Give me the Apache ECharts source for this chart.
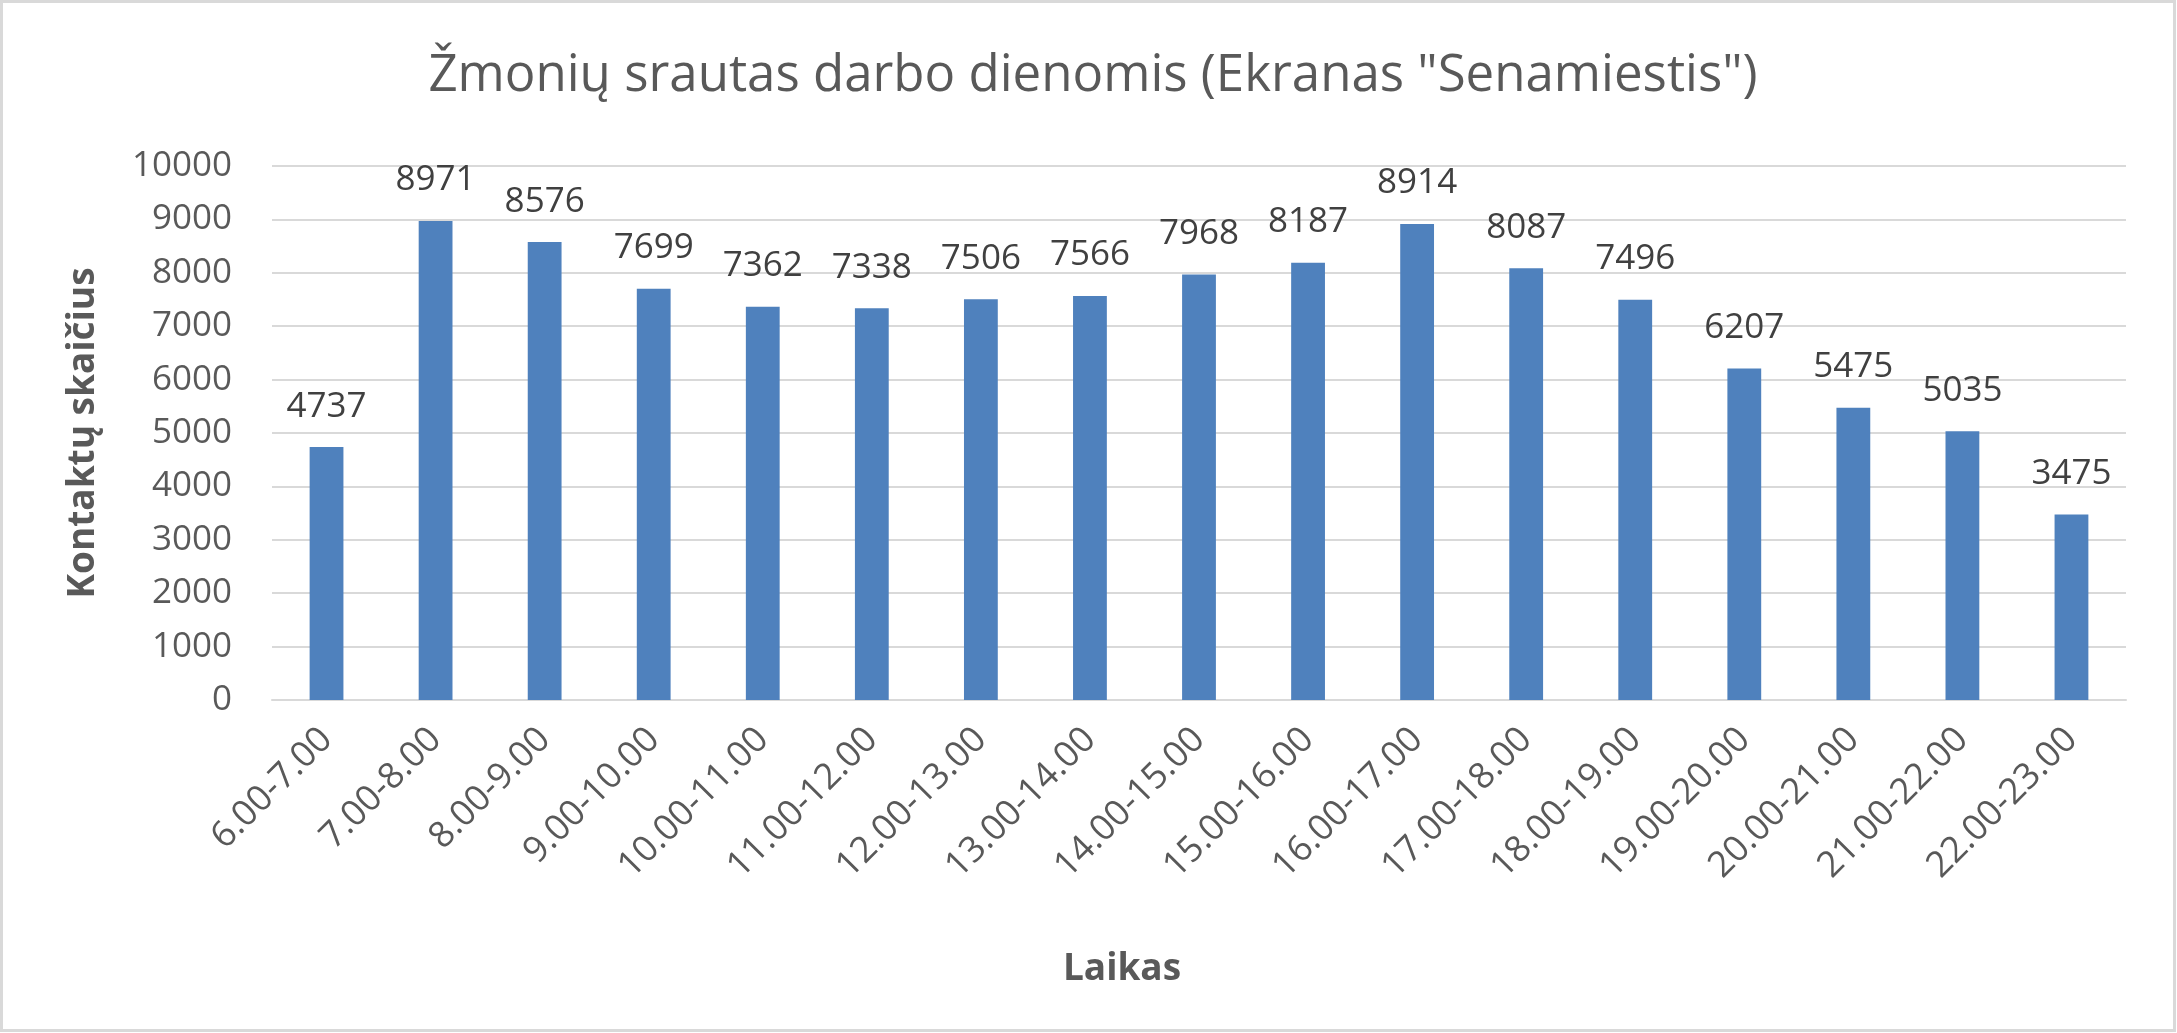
<!DOCTYPE html>
<html>
<head>
<meta charset="utf-8">
<script src="https://cdn.jsdelivr.net/npm/echarts@6/dist/echarts.min.js"></script>
<style>
html,body{margin:0;padding:0;background:#fff;}
#chart{width:2177px;height:1033px;}
</style>
</head>
<body>
<div id="chart"></div>
<script>
const categories = ["6.00-7.00","7.00-8.00","8.00-9.00","9.00-10.00","10.00-11.00","11.00-12.00","12.00-13.00","13.00-14.00","14.00-15.00","15.00-16.00","16.00-17.00","17.00-18.00","18.00-19.00","19.00-20.00","20.00-21.00","21.00-22.00","22.00-23.00"];
const values = [4737,8971,8576,7699,7362,7338,7506,7566,7968,8187,8914,8087,7496,6207,5475,5035,3475];
const chartTitle = 'Žmonių srautas darbo dienomis (Ekranas "Senamiestis")';
const xTitle = 'Laikas';
const yTitle = 'Kontaktų skaičius';

const FONT = '"Open Sans"';
const chart = echarts.init(document.getElementById('chart'));
chart.setOption({
  backgroundColor: '#ffffff',
  animation: false,
  title: [
    {text: chartTitle, left: 1088, top: 46, textAlign: 'center',
     textStyle: {fontFamily: FONT, fontSize: 51, fontWeight: 'normal', color: '#595959'}},
    {text: xTitle, left: 1117, top: 946, textAlign: 'center',
     textStyle: {fontFamily: FONT, fontSize: 37, fontWeight: 'bold', color: '#595959'}}
  ],
  graphic: [{type: 'rect', shape: {x: 1.5, y: 1.5, width: 2173, height: 1029},
    style: {fill: 'none', stroke: '#d9d9d9', lineWidth: 3}, silent: true}],
  grid: {left: 272, right: 51, top: 166, bottom: 333, containLabel: false},
  xAxis: {
    type: 'category', data: categories,
    axisLine: {show: true, lineStyle: {color: '#d9d9d9', width: 2}},
    axisTick: {show: false},
    axisLabel: {rotate: 45, margin: 34, interval: 0, fontFamily: FONT, fontSize: 36, color: '#595959'}
  },
  yAxis: {
    type: 'value', min: 0, max: 10000, interval: 1000,
    name: yTitle, nameLocation: 'middle', nameGap: 170, nameRotate: 90,
    nameTextStyle: {fontFamily: FONT, fontSize: 37, fontWeight: 'bold', color: '#595959'},
    axisLine: {show: false}, axisTick: {show: false},
    splitLine: {lineStyle: {color: '#d9d9d9', width: 2}},
    axisLabel: {margin: 40, fontFamily: FONT, fontSize: 35, color: '#595959',
      formatter: function (v) { return String(v); }}
  },
  series: [{
    type: 'bar', data: values, barWidth: '31%',
    itemStyle: {color: '#4f81bd'},
    label: {show: true, position: 'top', distance: 23, fontFamily: FONT, fontSize: 35, color: '#404040'}
  }]
});
</script>
</body>
</html>
